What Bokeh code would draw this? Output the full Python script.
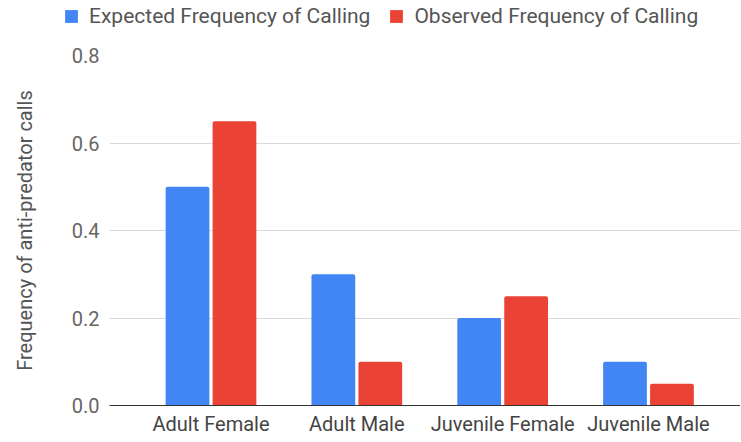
import numpy as np
from bokeh.plotting import figure
from bokeh.models import ColumnDataSource, Range1d, FixedTicker, Legend, LegendItem
from bokeh.transform import dodge
from bokeh.embed import file_html
from bokeh.resources import INLINE

categories = ["Adult Female", "Adult Male", "Juvenile Female", "Juvenile Male"]
expected = [0.5, 0.3, 0.2, 0.1]
observed = [0.65, 0.1, 0.25, 0.05]
y_ticks = [0.0, 0.2, 0.4, 0.6, 0.8]
series_names = ["Expected Frequency of Calling", "Observed Frequency of Calling"]

FONT = "Roboto"
BLUE = "#4285F4"
RED = "#EA4335"
BW = 0.30
OFF = 0.161

src = ColumnDataSource(dict(x=list(range(len(categories))), expected=expected, observed=observed))
x_range = Range1d(-0.696, 3.631)

# ---- legend strip (same series, legend only) ----
lg = figure(width=741, height=43, output_backend="svg", toolbar_location=None,
            x_range=x_range, y_range=Range1d(10, 11),
            x_axis_location=None, y_axis_location=None,
            min_border_left=0, min_border_right=0, min_border_top=0, min_border_bottom=0)
lg.outline_line_color = None
lg.grid.visible = False
lr1 = lg.vbar(x=dodge("x", -OFF), top="expected", width=BW, source=src,
              fill_color=BLUE, line_color=None)
lr2 = lg.vbar(x=dodge("x", OFF), top="observed", width=BW, source=src,
              fill_color=RED, line_color=None)

legend = Legend(items=[LegendItem(label=series_names[0], renderers=[lr1]),
                       LegendItem(label=series_names[1], renderers=[lr2])],
                location=(63, 15), orientation="horizontal",
                glyph_width=16, glyph_height=16, label_standoff=10, spacing=18,
                padding=0, margin=0, border_line_color=None, background_fill_alpha=0,
                label_text_font=FONT, label_text_font_size="21px", label_text_color="#555555")
lg.add_layout(legend, "center")

# ---- main chart ----
p = figure(frame_width=631, frame_height=350, output_backend="svg", toolbar_location=None,
           x_range=x_range, y_range=Range1d(0, 0.8),
           min_border_left=109, min_border_right=0, min_border_top=12, min_border_bottom=0)
p.outline_line_color = None
p.background_fill_color = "white"
p.border_fill_color = "white"

p.vbar(x=dodge("x", -OFF), top="expected", width=BW, source=src,
       fill_color=BLUE, line_color=None, border_radius=(2, 2, 0, 0))
p.vbar(x=dodge("x", OFF), top="observed", width=BW, source=src,
       fill_color=RED, line_color=None, border_radius=(2, 2, 0, 0))

p.xaxis.ticker = FixedTicker(ticks=list(range(len(categories))))
p.xaxis.major_label_overrides = {i: c for i, c in enumerate(categories)}
p.xaxis.major_tick_line_color = None
p.xaxis.major_tick_out = 0
p.xaxis.major_tick_in = 0
p.xaxis.minor_tick_line_color = None
p.xaxis.axis_line_color = "#333333"
p.xaxis.major_label_standoff = 6
p.xaxis.major_label_text_font = FONT
p.xaxis.major_label_text_font_size = "20px"
p.xaxis.major_label_text_color = "#444444"
p.xgrid.grid_line_color = None

p.yaxis.ticker = FixedTicker(ticks=y_ticks)
p.yaxis.major_label_overrides = {t: f"{t:.1f}" for t in y_ticks}
p.yaxis.major_tick_line_color = None
p.yaxis.major_tick_out = 0
p.yaxis.major_tick_in = 0
p.yaxis.minor_tick_line_color = None
p.yaxis.axis_line_color = None
p.yaxis.major_label_standoff = 10
p.yaxis.major_label_text_font = FONT
p.yaxis.major_label_text_font_size = "20px"
p.yaxis.major_label_text_color = "#666666"
p.yaxis.axis_label = "Frequency of anti-predator calls"
p.yaxis.axis_label_text_font = FONT
p.yaxis.axis_label_text_font_size = "20px"
p.yaxis.axis_label_text_font_style = "normal"
p.yaxis.axis_label_text_color = "#555555"
p.yaxis.axis_label_standoff = 32
p.ygrid.grid_line_color = "#d9d9d9"
p.ygrid.grid_line_width = 1

open("out.html", "w").write(file_html([lg, p], INLINE))
